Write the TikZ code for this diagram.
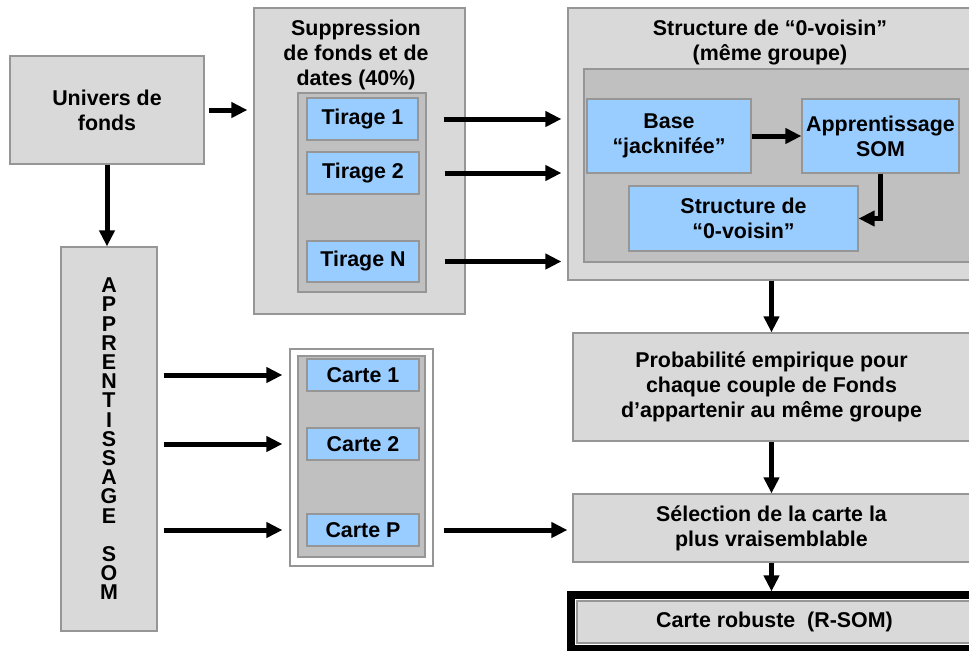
\documentclass[tikz,border=0pt]{standalone}
\usepackage{fontspec}
\setmainfont{Liberation Sans}
\usepackage{tikz}
\usetikzlibrary{positioning,arrows.meta}
\definecolor{fondgris}{RGB}{217,217,217}
\definecolor{grisfonce}{RGB}{192,192,192}
\definecolor{bleu}{RGB}{153,204,255}
\definecolor{bord}{RGB}{150,150,150}

\begin{document}
\begin{tikzpicture}[x=0.5pt, y=-0.5pt, >={Triangle[length=8pt,width=7.5pt]},
    every node/.style = {font=\fontsize{10.7}{12.5}\selectfont\bfseries, align=center, inner sep=0pt},
    box/.style = {draw=bord, fill=fondgris, line width=0.6pt},
    inbox/.style = {draw=bord, fill=grisfonce, line width=0.6pt},
    bluebox/.style = {draw=bord, fill=bleu, line width=0.6pt},
    fl/.style = {->, line width=2.5pt}
    ]
    \useasboundingbox (0,0) rectangle (969,650);
    \clip (0,0) rectangle (969,650);

    \node[box, minimum width=97pt, minimum height=54pt] (univ) at (107,110) {Univers de\\fonds};
    \node[box, minimum width=48pt, minimum height=192pt, font=\fontsize{10.7}{9.6}\selectfont\bfseries] (som) at (109,439)
        {A\\P\\P\\R\\E\\N\\T\\I\\S\\S\\A\\G\\E\\[9.6pt]S\\O\\M};

    % tirages
    \node[box, minimum width=105.5pt, minimum height=153pt] (supp) at (359.5,161) {};
    \node (supptxt) at (356,55) {Suppression\\de fonds et de\\dates (40\%)};
    \node[inbox, minimum width=64pt, minimum height=99.5pt] (tir) at (362,192.5) {};
    \node[bluebox, minimum width=55.5pt, minimum height=21pt] (t1) at (362.5,119) {Tirage 1};
    \node[bluebox, minimum width=56pt, minimum height=21pt] (t2) at (363,173) {Tirage 2};
    \node[bluebox, minimum width=56pt, minimum height=20.5pt] (tN) at (363,261.5) {Tirage N};

    % structure 0-voisin
    \node[box, minimum width=202pt, minimum height=136pt] (struct) at (770,144) {};
    \node (structxt) at (770,43) {Structure de “0-voisin”\\(même groupe)};
    \node[inbox, minimum width=194pt, minimum height=96.5pt] (sin) at (778,165.5) {};
    \node[bluebox, minimum width=82pt, minimum height=37pt] (base) at (669,136) {Base\\“jacknifée”};
    \node[bluebox, minimum width=78.5pt, minimum height=37pt] (appr) at (880.5,136) {Apprentissage\\SOM};
    \node[bluebox, minimum width=114.5pt, minimum height=32.5pt] (vois) at (743.5,218.5) {Structure de\\“0-voisin”};

    % cartes
    \node[draw=bord, fill=white, line width=0.6pt, minimum width=71.5pt, minimum height=108.5pt] (cartes) at (361.5,457.5) {};
    \node[inbox, minimum width=63.5pt, minimum height=100.5pt] (cin) at (361.5,456.5) {};
    \node[bluebox, minimum width=56pt, minimum height=16pt] (c1) at (363,375) {Carte 1};
    \node[bluebox, minimum width=56pt, minimum height=16pt] (c2) at (363,444) {Carte 2};
    \node[bluebox, minimum width=56pt, minimum height=16pt] (cP) at (363,530) {Carte P};

    \node[box, minimum width=198.5pt, minimum height=54pt] (prob) at (771.5,387)
        {Probabilité empirique pour\\chaque couple de Fonds\\d’appartenir au même groupe};
    \node[box, minimum width=198.5pt, minimum height=34pt] (sel) at (771.5,528)
        {Sélection de la carte la\\plus vraisemblable};
    \node[box, minimum width=197.5pt, minimum height=21pt] (robust) at (774.5,622) {Carte robuste\ \ (R-SOM)};
    \draw[line width=4pt] ([xshift=-2.5pt,yshift=2.5pt]robust.north west) rectangle ([xshift=2.5pt,yshift=-2.5pt]robust.south east);

    \draw[fl, shorten <=2pt, shorten >=3pt] (univ.east) -- (univ.east -| supp.west);
    \draw[fl] (univ.south) -- (univ.south |- som.north);
    \foreach \t in {t1,t2,tN}
        \draw[fl, shorten <=12.5pt, shorten >=3pt] (\t.east) -- (\t.east -| struct.west);
    \draw[fl] (base) -- (appr);
    \draw[fl] (appr.south) |- (vois.east);
    \draw[fl] (prob.north |- struct.south) -- (prob.north);
    \draw[fl] (prob) -- (sel);
    \draw[fl, shorten >=4.5pt] (sel.south) -- (sel.south |- robust.north);
    \foreach \c in {c1,c2,cP}
        \draw[fl, shorten <=3pt, shorten >=3.5pt] (\c.west -| som.east) -- (\c.west -| cartes.west);
    \draw[fl, shorten <=12pt, shorten >=2.5pt] (cP.east) -- (cP.east -| sel.west);
\end{tikzpicture}
\end{document}
